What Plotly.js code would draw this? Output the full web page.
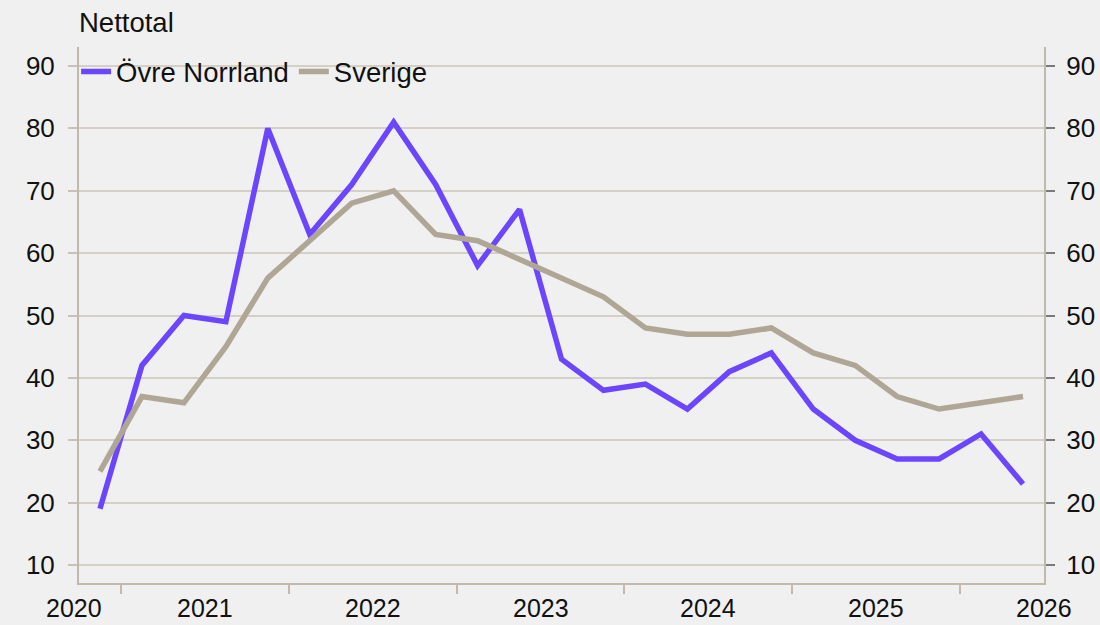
<!DOCTYPE html>
<html>
<head>
<meta charset="utf-8">
<script src="https://cdn.plot.ly/plotly-3.0.1.min.js"></script>
<style>
  html, body { margin: 0; padding: 0; background: #F0F0F0; }
  #chart { width: 1100px; height: 625px; }
</style>
</head>
<body>
<div id="chart"></div>
<script>
// Quarterly observations (2020 Q4 .. 2026 Q2)
const quarters = [
  "2020 Q4",
  "2021 Q1", "2021 Q2", "2021 Q3", "2021 Q4",
  "2022 Q1", "2022 Q2", "2022 Q3", "2022 Q4",
  "2023 Q1", "2023 Q2", "2023 Q3", "2023 Q4",
  "2024 Q1", "2024 Q2", "2024 Q3", "2024 Q4",
  "2025 Q1", "2025 Q2", "2025 Q3", "2025 Q4",
  "2026 Q1", "2026 Q2"
];
const ovreNorrland = [19, 42, 50, 49, 80, 63, 71, 81, 71, 58, 67, 43, 38, 39, 35, 41, 44, 35, 30, 27, 27, 31, 23];
const sverige      = [25, 37, 36, 45, 56, 62, 68, 70, 63, 62, 59, 56, 53, 48, 47, 47, 48, 44, 42, 37, 35, 36, 37];
const yearLabels = ["2020", "2021", "2022", "2023", "2024", "2025", "2026"];
const yTicks = [10, 20, 30, 40, 50, 60, 70, 80, 90];
const seriesNames = ["Övre Norrland", "Sverige"];
const unitLabel = "Nettotal";

const FONT = "Liberation Sans, Arial, Helvetica, sans-serif";
const xIdx = quarters.map((q, i) => i);
const xMin = -0.5, xMax = quarters.length - 0.5;
const yRange = [7.11, 93.05];

// year boundaries (between Q4 and Q1)
const yearOf = q => parseInt(q.slice(0, 4), 10);
const boundaries = [];
for (let i = 1; i < quarters.length; i++) {
  if (yearOf(quarters[i]) !== yearOf(quarters[i - 1])) boundaries.push(i - 0.5);
}
// year label centres (mid-year position), kept inside the axis
const firstYear = yearOf(quarters[0]);
const q0 = parseInt(quarters[0].slice(-1), 10);
const yearMid = y => (y - firstYear) * 4 + (1 - q0) + 1.5;

const traces = [
  {
    x: xIdx, y: ovreNorrland, name: seriesNames[0], type: "scatter", mode: "lines",
    line: { color: "#6C46FF", width: 5.5 }, hoverinfo: "x+y"
  },
  {
    x: xIdx, y: sverige, name: seriesNames[1], type: "scatter", mode: "lines",
    line: { color: "#B0A695", width: 5.5 }, hoverinfo: "x+y"
  },
  {
    x: [0], y: [null], yaxis: "y2", showlegend: false, hoverinfo: "skip",
    type: "scatter", mode: "lines"
  }
];

const annotations = yearLabels.map(lbl => {
  const m = yearMid(parseInt(lbl, 10));
  const c = Math.max(xMin, Math.min(xMax, m));
  const shift = m < xMin ? -5 : (m > xMax ? -3 : 0);
  return {
    text: lbl, x: c, xref: "x", xshift: shift,
    y: -0.047, yref: "paper", xanchor: "center", yanchor: "middle",
    showarrow: false, borderpad: 0,
    font: { family: FONT, size: 25, color: "#111" }
  };
});
annotations.push({
  text: unitLabel, x: -0.002, xref: "paper", y: 1.0466, yref: "paper",
  xanchor: "left", yanchor: "middle", showarrow: false,
  font: { family: FONT, size: 27.5, color: "#111" }
});

const layout = {
  width: 1100, height: 625,
  paper_bgcolor: "#F0F0F0", plot_bgcolor: "#F0F0F0",
  margin: { l: 79, r: 56, t: 47, b: 42, pad: 0 },
  font: { family: FONT, size: 26, color: "#111" },
  showlegend: true,
  legend: {
    orientation: "h", x: -0.003, xanchor: "left", y: 0.954, yanchor: "middle",
    bgcolor: "rgba(0,0,0,0)", font: { family: FONT, size: 27.5, color: "#111" },
    itemwidth: 30, tracegroupgap: 0
  },
  xaxis: {
    range: [xMin, xMax], showgrid: false, zeroline: false,
    showline: true, linecolor: "#C2B9AC", linewidth: 2,
    tickmode: "array", tickvals: boundaries, ticktext: boundaries.map(() => ""),
    ticks: "outside", ticklen: 9, tickwidth: 2, tickcolor: "#C2B9AC",
    showticklabels: false, fixedrange: true
  },
  yaxis: {
    range: yRange, tickmode: "array", tickvals: yTicks,
    showgrid: true, gridcolor: "#D6CFC6", gridwidth: 2, zeroline: false,
    showline: true, linecolor: "#C2B9AC", linewidth: 2,
    ticks: "outside", ticklen: 9, tickwidth: 2, tickcolor: "#C9C1B5",
    ticklabelstandoff: 8,
    tickfont: { family: FONT, size: 26, color: "#111" }, fixedrange: true
  },
  yaxis2: {
    range: yRange, overlaying: "y", side: "right", anchor: "x",
    tickmode: "array", tickvals: yTicks, showgrid: false, zeroline: false,
    showline: true, linecolor: "#C2B9AC", linewidth: 2,
    ticks: "outside", ticklen: 9, tickwidth: 2, tickcolor: "#7A7A7A",
    ticklabelstandoff: 6,
    tickfont: { family: FONT, size: 26, color: "#111" }, fixedrange: true
  },
  annotations: annotations
};

Plotly.newPlot("chart", traces, layout, { displayModeBar: false, staticPlot: true });
</script>
</body>
</html>
